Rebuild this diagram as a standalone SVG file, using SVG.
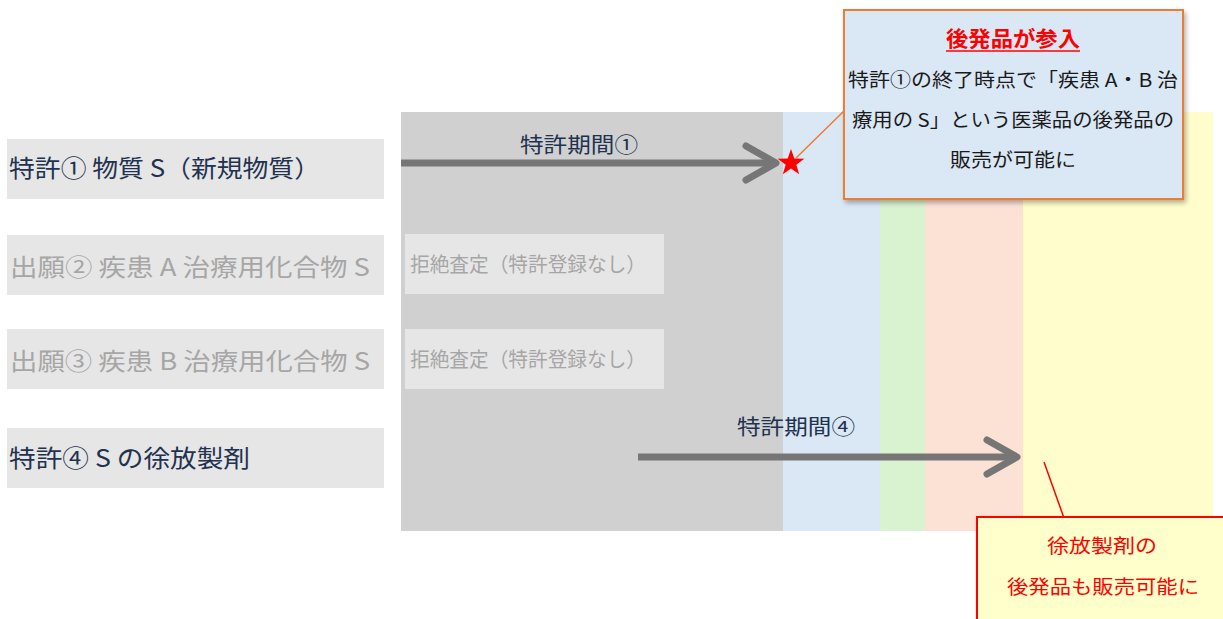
<svg xmlns="http://www.w3.org/2000/svg" width="1223" height="619" viewBox="0 0 1223 619">
<defs>
<style>
.lbl{fill:#e7e6e6}
.t{font-family:"Noto Sans CJK JP","Noto Sans",sans-serif}
.dark{fill:#1f3350}
.gray{fill:#a6a6a6}
.arrow{stroke:#767676;stroke-width:7;fill:none;stroke-linecap:round;stroke-linejoin:round}
</style>
<filter id="sh" x="-10%" y="-10%" width="130%" height="130%">
<feDropShadow dx="2" dy="3" stdDeviation="2.5" flood-color="#000" flood-opacity="0.3"/>
</filter>
</defs>
<rect width="1223" height="619" fill="#fff"/>
<g id="timeline">
<rect x="401" y="112" width="382" height="419" fill="#d0d0d0"/>
<rect x="783" y="112" width="97" height="419" fill="#dae7f5"/>
<rect x="880" y="112" width="45" height="419" fill="#d9f2d0"/>
<rect x="925" y="112" width="98" height="419" fill="#fbe2d5"/>
<rect x="1023" y="112" width="190" height="419" fill="#fffdcc"/>
</g>
<g id="row1">
<rect class="lbl" x="7" y="139" width="377" height="60"/>
<text class="t dark" x="9" y="177" font-size="24" textLength="311" lengthAdjust="spacingAndGlyphs">特許① 物質 S（新規物質）</text>
</g>
<g id="row2">
<rect class="lbl" x="7" y="235" width="377" height="60"/>
<text class="t gray" x="10" y="276" font-size="24" textLength="360" lengthAdjust="spacingAndGlyphs">出願② 疾患 A 治療用化合物 S</text>
</g>
<g id="row3">
<rect class="lbl" x="7" y="329" width="377" height="60"/>
<text class="t gray" x="10" y="370" font-size="24" textLength="360" lengthAdjust="spacingAndGlyphs">出願③ 疾患 B 治療用化合物 S</text>
</g>
<g id="row4">
<rect class="lbl" x="7" y="428" width="377" height="60"/>
<text class="t dark" x="9" y="467" font-size="24" textLength="241" lengthAdjust="spacingAndGlyphs">特許④ S の徐放製剤</text>
</g>
<g id="reject2">
<rect class="lbl" x="405" y="234" width="259" height="60"/>
<text class="t gray" x="410" y="272" font-size="20" textLength="236" lengthAdjust="spacingAndGlyphs">拒絶査定（特許登録なし）</text>
</g>
<g id="reject3">
<rect class="lbl" x="405" y="329" width="259" height="60"/>
<text class="t gray" x="410" y="367" font-size="20" textLength="236" lengthAdjust="spacingAndGlyphs">拒絶査定（特許登録なし）</text>
</g>
<g id="connectors">
<line x1="401" y1="163" x2="775" y2="163" stroke="#767676" stroke-width="7"/>
<polyline class="arrow" points="746,146 776,163 746,180"/>
<text class="t dark" x="579" y="152" font-size="21" text-anchor="middle" textLength="118" lengthAdjust="spacingAndGlyphs">特許期間①</text>
<line x1="638" y1="457" x2="1016" y2="457" stroke="#767676" stroke-width="7"/>
<polyline class="arrow" points="987,440 1017,457 987,474"/>
<text class="t dark" x="796" y="434" font-size="21" text-anchor="middle" textLength="118" lengthAdjust="spacingAndGlyphs">特許期間④</text>
<line x1="844" y1="111" x2="796" y2="158" stroke="#ed7d31" stroke-width="1.5"/>
<line x1="1044" y1="462" x2="1064" y2="518" stroke="#ff0000" stroke-width="1.5"/>
</g>
<g id="star">
<polygon fill="#ff0000" points="791,149 794.3,158.5 804.3,158.7 796.3,164.7 799.2,174.3 791,168.6 782.8,174.3 785.7,164.7 777.7,158.7 787.7,158.5"/>
</g>
<g id="callout1">
<rect x="844" y="10" width="339" height="189" fill="#dae7f5" stroke="#ed7d31" stroke-width="2" filter="url(#sh)"/>
<text class="t" x="1013" y="46" font-size="21" font-weight="bold" fill="#ff0000" text-anchor="middle" textLength="134" lengthAdjust="spacingAndGlyphs">後発品が参入</text>
<line x1="946" y1="51" x2="1080" y2="51" stroke="#ff0000" stroke-width="1.5"/>
<text class="t" x="1013" y="87" font-size="19" fill="#1a1a1a" text-anchor="middle" textLength="330" lengthAdjust="spacingAndGlyphs">特許①の終了時点で「疾患 A・B 治</text>
<text class="t" x="1013" y="127" font-size="19" fill="#1a1a1a" text-anchor="middle" textLength="322" lengthAdjust="spacingAndGlyphs">療用の S」という医薬品の後発品の</text>
<text class="t" x="1013" y="167" font-size="19" fill="#1a1a1a" text-anchor="middle" textLength="126" lengthAdjust="spacingAndGlyphs">販売が可能に</text>
</g>
<g id="callout2">
<rect x="977" y="517" width="250" height="106" fill="#ffffcc" stroke="#ff0000" stroke-width="2" filter="url(#sh)"/>
<text class="t" x="1102" y="553" font-size="19" fill="#ff0000" text-anchor="middle" textLength="110" lengthAdjust="spacingAndGlyphs">徐放製剤の</text>
<text class="t" x="1103" y="594" font-size="19" fill="#ff0000" text-anchor="middle" textLength="192" lengthAdjust="spacingAndGlyphs">後発品も販売可能に</text>
</g>
</svg>
